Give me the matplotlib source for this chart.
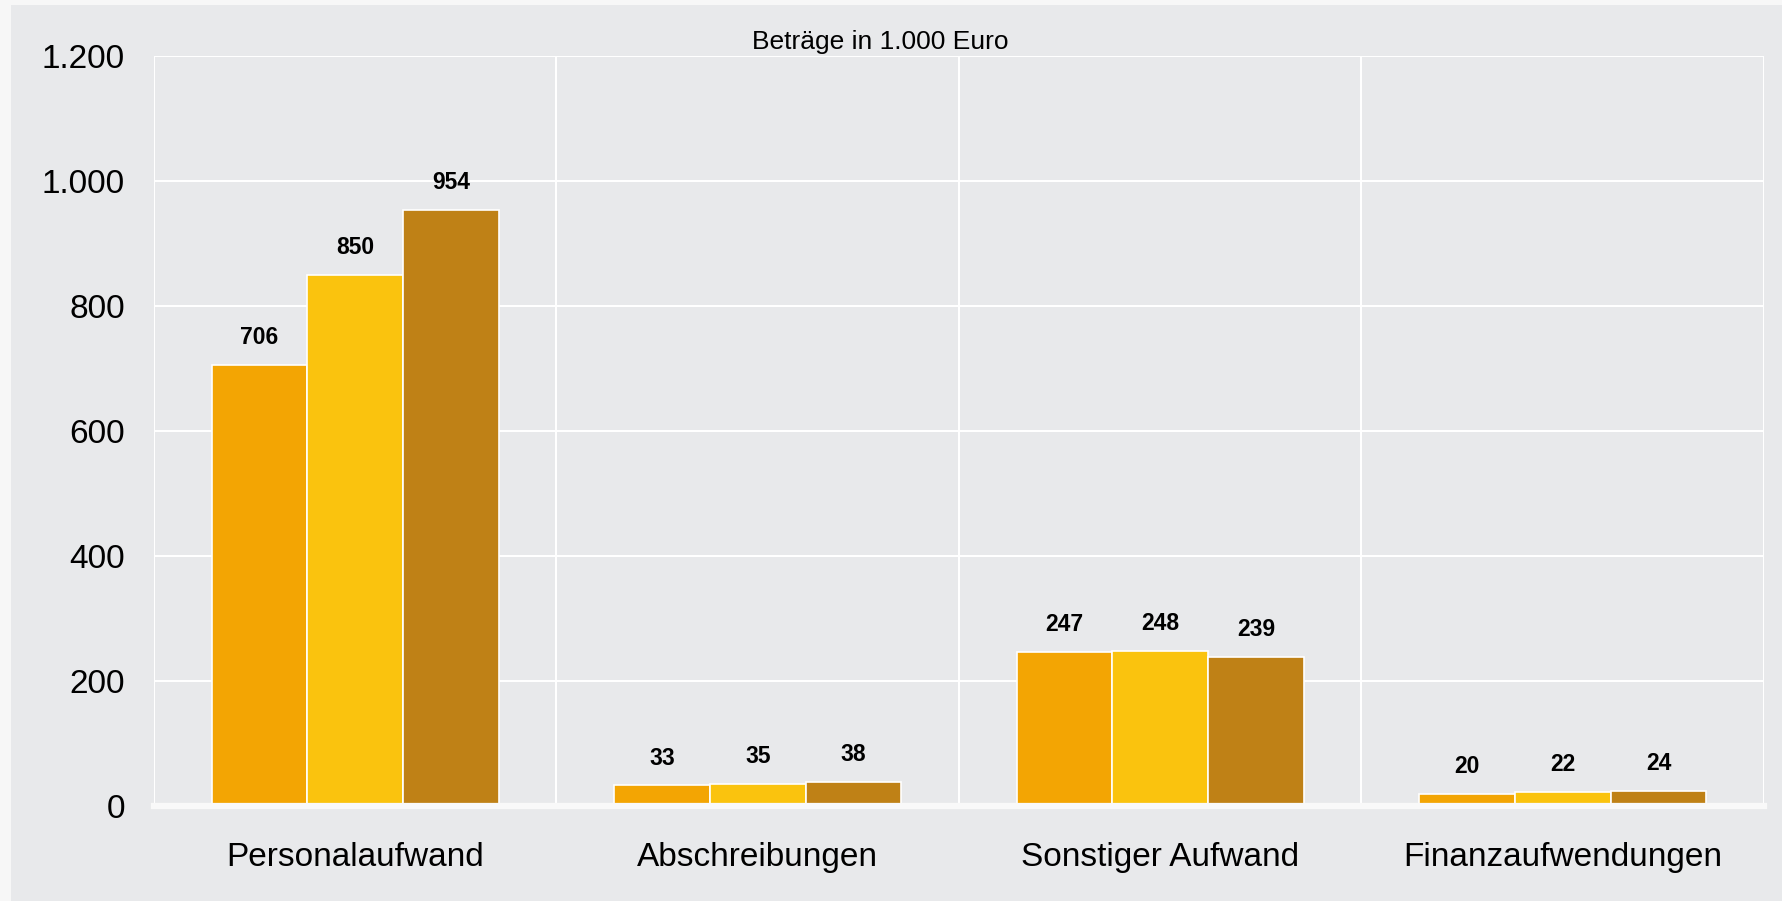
import matplotlib
matplotlib.use("Agg")
import matplotlib.pyplot as plt
import numpy as np
from matplotlib.patches import Rectangle
from matplotlib.ticker import FixedLocator, FuncFormatter

plt.rcParams['font.family'] = ['Liberation Sans', 'DejaVu Sans']

categories = ["Personalaufwand", "Abschreibungen", "Sonstiger Aufwand", "Finanzaufwendungen"]
series_1 = [706, 33, 247, 20]
series_2 = [850, 35, 248, 22]
series_3 = [954, 38, 239, 24]
series_values = [series_1, series_2, series_3]
series_colors = ["#F3A503", "#FAC30E", "#BF8116"]
y_ticks = [0, 200, 400, 600, 800, 1000, 1200]
subtitle = "Beträge in 1.000 Euro"

W, H = 1783, 901
fig = plt.figure(figsize=(W / 100, H / 100), dpi=100)
fig.patch.set_facecolor("#F7F7F7")
fig.patches.append(Rectangle((11 / W, 0), 1 - 11 / W, 1 - 5 / H,
                             transform=fig.transFigure, facecolor="#E8E9EB",
                             edgecolor="none", zorder=-10))

left, right = 154 / W, 1764 / W
top, bottom = 1 - 56 / H, 1 - 806 / H
ax = fig.add_axes([left, bottom, right - left, top - bottom])
ax.set_zorder(1)
ax.set_facecolor("#E8E9EB")
for s in ax.spines.values():
    s.set_visible(False)

x = np.arange(len(categories))
bw = 0.238
offsets = [-bw, 0, bw]
for vals, off, col in zip(series_values, offsets, series_colors):
    bars = ax.bar(x + off, vals, width=bw, color=col, edgecolor="white",
                  linewidth=1.2, zorder=3)
    for b, v in zip(bars, vals):
        ax.annotate(f"{v}", (b.get_x() + b.get_width() / 2, v),
                    xytext=(0, 15), textcoords="offset points",
                    ha="center", va="baseline", fontsize=16.5,
                    fontweight="bold", color="black", zorder=4)

ax.set_xlim(-0.5, len(categories) - 0.5)
ax.set_ylim(0, 1200)
ax.yaxis.set_major_locator(FixedLocator(y_ticks))
ax.yaxis.set_major_formatter(FuncFormatter(lambda v, p: f"{int(v):,}".replace(",", ".")))
ax.set_xticks(x)
ax.set_xticklabels(categories)
ax.set_xticks(np.arange(-0.5, len(categories) + 0.5, 1), minor=True)
ax.tick_params(axis="both", which="both", length=0)
ax.tick_params(axis="y", labelsize=24, pad=21)
ax.tick_params(axis="x", labelsize=24, pad=26)
ax.grid(axis="y", which="major", color="white", linewidth=1.5, zorder=1)
ax.grid(axis="x", which="minor", color="white", linewidth=1.5, zorder=1)
ax.grid(axis="x", which="major", visible=False)
ax.axhline(0, color="#F9F9F9", linewidth=4.5, zorder=3.5, clip_on=False)
ax.set_axisbelow(True)

fig.text(880 / W, 1 - 49 / H, subtitle, ha="center", va="baseline", fontsize=19, color="black")

fig.savefig("out.png", dpi=100, facecolor=fig.get_facecolor())
